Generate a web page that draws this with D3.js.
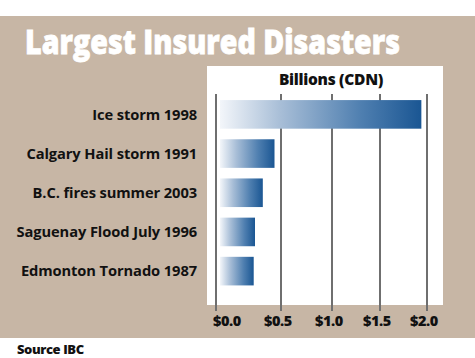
<!DOCTYPE html>
<html><head><meta charset="utf-8">
<script src="https://cdn.jsdelivr.net/npm/d3@7"></script>
<style>
html,body{margin:0;padding:0;background:#fff;}
svg{display:block;}
</style></head>
<body>
<svg id="chart" width="475" height="358"></svg>
<script>
const categories = ["Ice storm 1998","Calgary Hail storm 1991","B.C. fires summer 2003","Saguenay Flood July 1996","Edmonton Tornado 1987"];
const values = [1.94, 0.45, 0.36, 0.30, 0.29];
const tickValues = [0, 0.5, 1.0, 1.5, 2.0];
const tickLabels = ["$0.0","$0.5","$1.0","$1.5","$2.0"];
const title = "Largest Insured Disasters";
const unitLabel = "Billions (CDN)";
const source = "Source IBC";

const svg = d3.select("#chart");
const font = "'Open Sans', 'DejaVu Sans', sans-serif";
const tan = "#c7b6a5";

// background band
svg.append("rect").attr("x",0).attr("y",16).attr("width",475).attr("height",322).attr("fill",tan);
// white panel
svg.append("rect").attr("x",207).attr("y",66).attr("width",236).attr("height",239).attr("fill","#fff");

// gradient
const defs = svg.append("defs");
const g = defs.append("linearGradient").attr("id","barGrad").attr("x1","0%").attr("x2","100%");
g.append("stop").attr("offset","0%").attr("stop-color","#f3f6fa");
g.append("stop").attr("offset","30%").attr("stop-color","#a8bed7");
g.append("stop").attr("offset","70%").attr("stop-color","#4f7fb0");
g.append("stop").attr("offset","100%").attr("stop-color","#1a5693");

// scales (the printed axis is unevenly spaced)
const x = d3.scaleLinear().domain(tickValues).range([216, 281, 332, 380, 427]);
const y = d3.scaleBand().domain(categories).range([89.5, 296]).paddingInner(0.27).paddingOuter(0.27);

// gridlines
svg.append("g").selectAll("line").data(tickValues).join("line")
  .attr("x1", d => x(d)).attr("x2", d => x(d))
  .attr("y1", 94).attr("y2", 311)
  .attr("stroke", "#6f6f6f").attr("stroke-width", 2);

// bars
svg.append("g").selectAll("rect").data(values).join("rect")
  .attr("x", x(0) + 4)
  .attr("y", (d,i) => y(categories[i]))
  .attr("width", d => x(d) - x(0) - 4)
  .attr("height", y.bandwidth())
  .attr("fill", "url(#barGrad)");

// category labels
svg.append("g").selectAll("text").data(categories).join("text")
  .attr("x", 197)
  .attr("y", d => y(d) + y.bandwidth()/2)
  .attr("dy", "0.35em")
  .attr("text-anchor", "end")
  .attr("font-family", font).attr("font-weight", 700).attr("font-size", 14.7)
  .attr("letter-spacing", -0.1)
  .attr("fill", "#111")
  .text(d => d);

// tick labels
svg.append("g").selectAll("text").data(tickValues).join("text")
  .attr("x", (d,i) => x(d) - 3)
  .attr("y", 326)
  .attr("text-anchor", (d,i) => i === 0 ? "start" : "middle")
  .attr("font-family", font).attr("font-weight", 800).attr("font-size", 14.5)
  .attr("letter-spacing", -0.4)
  .attr("fill", "#111")
  .text((d,i) => tickLabels[i]);

// unit label
svg.append("text").attr("x", 331).attr("y", 85).attr("text-anchor","middle")
  .attr("font-family", font).attr("font-weight", 800).attr("font-size", 15.5)
  .attr("letter-spacing", -0.3).attr("fill","#111").text(unitLabel);

// title
svg.append("text").attr("x", 25).attr("y", 54)
  .attr("font-family", font).attr("font-weight", 800).attr("font-size", 33)
  .attr("textLength", 375).attr("lengthAdjust","spacingAndGlyphs")
  .attr("stroke","#fff").attr("stroke-width",0.8)
  .attr("fill","#fff").text(title);

// source
svg.append("text").attr("x", 17).attr("y", 354)
  .attr("font-family", font).attr("font-weight", 800).attr("font-size", 13)
  .attr("letter-spacing", -0.4).attr("fill","#111").text(source);
</script>
</body></html>
